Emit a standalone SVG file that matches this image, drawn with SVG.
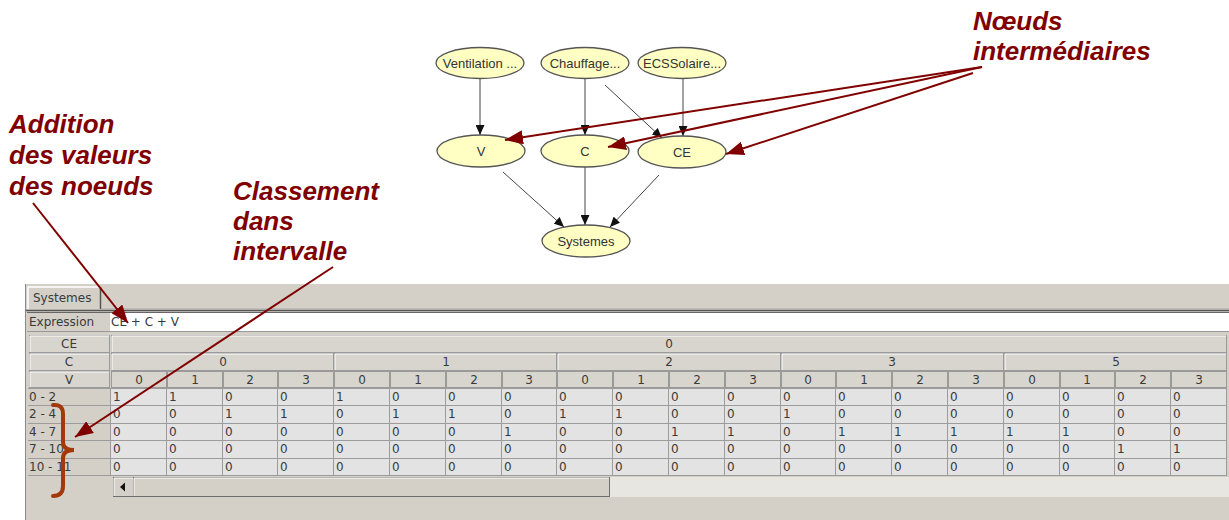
<svg xmlns="http://www.w3.org/2000/svg" width="1229" height="520" viewBox="0 0 1229 520">
<defs>
<marker id="ga" viewBox="0 0 10 9" refX="10" refY="4.5" markerWidth="10" markerHeight="9" markerUnits="userSpaceOnUse" orient="auto"><path d="M0,0 L10,4.5 L0,9 z" fill="#111"/></marker>
<marker id="ra" viewBox="0 0 18 14" refX="18" refY="7" markerWidth="18" markerHeight="14" markerUnits="userSpaceOnUse" orient="auto"><path d="M0,0 L18,7 L0,14 z" fill="#800000"/></marker>
<style>
.nd{fill:#FFFFC4;stroke:#555;stroke-width:1.3}
.nt{font-family:"Liberation Sans",Arial,sans-serif;font-size:13px;fill:#333;text-anchor:middle}
.ge{stroke:#444;stroke-width:1;fill:none;marker-end:url(#ga)}
.an{font-family:"Liberation Sans",Arial,sans-serif;font-size:26px;font-weight:bold;font-style:italic;fill:#800000}
.ra{stroke:#800000;stroke-width:2;fill:none;marker-end:url(#ra)}
.t{font-family:"DejaVu Sans",sans-serif;font-size:12px;fill:#3a3a3a}
.tc{font-family:"DejaVu Sans",sans-serif;font-size:12px;fill:#3a3a3a;text-anchor:middle}
.hb{fill:#D8D5CE;stroke:#9A9A9A;stroke-width:1}
.hl{stroke:#fff;stroke-width:1;fill:none}
.gl{stroke:#9C9C9C;stroke-width:1}
</style>
</defs>
<rect width="1229" height="520" fill="#fff"/>

<!-- panel -->
<g id="panel">
<rect x="25" y="284" width="1204" height="236" fill="#D4D0C8"/>
<line x1="25.5" y1="284" x2="25.5" y2="520" stroke="#8a8a8a"/>
<g id="tab">
<path d="M28,309 L28,287 L100,287" fill="none" stroke="#fff" stroke-width="1.5"/>
<line x1="100.5" y1="287" x2="100.5" y2="309" stroke="#555" stroke-width="1.5"/>
<text class="t" x="33" y="302" font-size="12.5">Systemes</text>
</g>
<line x1="26" y1="310.5" x2="1229" y2="310.5" stroke="#555" stroke-width="1.5"/>
<line x1="101" y1="309" x2="1229" y2="309" stroke="#aaa"/>
<!-- expression row -->
<rect x="110" y="312" width="1119" height="19" fill="#fff"/>
<line x1="27" y1="312.5" x2="1229" y2="312.5" stroke="#666"/>
<line x1="27" y1="331.5" x2="1229" y2="331.5" stroke="#999"/>
<text class="t" x="29" y="326">Expression</text>
<text class="t" x="111" y="326">CE + C + V</text>
</g>

<g id="table">
<!-- header label buttons -->
<rect class="hb" x="29.5" y="335.5" width="80" height="17"/>
<rect class="hb" x="29.5" y="353.5" width="80" height="17"/>
<rect class="hb" x="29.5" y="371.5" width="80" height="16"/>
<path class="hl" d="M30,352 L30,336 L109,336 M30,370 L30,354 L109,354 M30,387 L30,372 L109,372"/>
<text class="tc" x="69" y="348">CE</text>
<text class="tc" x="69" y="366">C</text>
<text class="tc" x="69" y="384">V</text>
<!-- CE span -->
<rect class="hb" x="111.5" y="335.5" width="1115" height="17"/>
<path class="hl" d="M112,352 L112,336 L1226,336"/>
<text class="tc" x="669" y="348">0</text>
<!-- C groups -->
<rect class="hb" x="111.5" y="353.5" width="222" height="17"/>
<rect class="hb" x="334.5" y="353.5" width="222" height="17"/>
<rect class="hb" x="557.5" y="353.5" width="223" height="17"/>
<rect class="hb" x="781.5" y="353.5" width="222" height="17"/>
<rect class="hb" x="1004.5" y="353.5" width="222" height="17"/>
<path class="hl" d="M112,370 L112,354 L333,354 M335,370 L335,354 L556,354 M558,370 L558,354 L780,354 M782,370 L782,354 L1003,354 M1005,370 L1005,354 L1226,354"/>
<text class="tc" x="223" y="366">0</text>
<text class="tc" x="446" y="366">1</text>
<text class="tc" x="669" y="366">2</text>
<text class="tc" x="892" y="366">3</text>
<text class="tc" x="1116" y="366">5</text>
<!-- V columns -->
<g>
<rect class="hb" x="111.5" y="371.5" width="55" height="16"/><rect class="hb" x="167.5" y="371.5" width="55" height="16"/><rect class="hb" x="223.5" y="371.5" width="54" height="16"/><rect class="hb" x="278.5" y="371.5" width="55" height="16"/>
<rect class="hb" x="334.5" y="371.5" width="55" height="16"/><rect class="hb" x="390.5" y="371.5" width="55" height="16"/><rect class="hb" x="446.5" y="371.5" width="55" height="16"/><rect class="hb" x="502.5" y="371.5" width="54" height="16"/>
<rect class="hb" x="557.5" y="371.5" width="55" height="16"/><rect class="hb" x="613.5" y="371.5" width="55" height="16"/><rect class="hb" x="669.5" y="371.5" width="55" height="16"/><rect class="hb" x="725.5" y="371.5" width="55" height="16"/>
<rect class="hb" x="781.5" y="371.5" width="54" height="16"/><rect class="hb" x="836.5" y="371.5" width="55" height="16"/><rect class="hb" x="892.5" y="371.5" width="55" height="16"/><rect class="hb" x="948.5" y="371.5" width="55" height="16"/>
<rect class="hb" x="1004.5" y="371.5" width="55" height="16"/><rect class="hb" x="1060.5" y="371.5" width="54" height="16"/><rect class="hb" x="1115.5" y="371.5" width="55" height="16"/><rect class="hb" x="1171.5" y="371.5" width="55" height="16"/>
</g>
<g>
<text class="tc" x="139" y="384">0</text><text class="tc" x="195" y="384">1</text><text class="tc" x="250" y="384">2</text><text class="tc" x="306" y="384">3</text>
<text class="tc" x="362" y="384">0</text><text class="tc" x="418" y="384">1</text><text class="tc" x="474" y="384">2</text><text class="tc" x="529" y="384">3</text>
<text class="tc" x="585" y="384">0</text><text class="tc" x="641" y="384">1</text><text class="tc" x="697" y="384">2</text><text class="tc" x="753" y="384">3</text>
<text class="tc" x="808" y="384">0</text><text class="tc" x="864" y="384">1</text><text class="tc" x="920" y="384">2</text><text class="tc" x="976" y="384">3</text>
<text class="tc" x="1032" y="384">0</text><text class="tc" x="1087" y="384">1</text><text class="tc" x="1143" y="384">2</text><text class="tc" x="1199" y="384">3</text>
</g>
<!-- data area -->
<rect x="111" y="388" width="1116" height="87" fill="#E3E3E3"/>
<rect x="28" y="388" width="83" height="87" fill="#D4D0C8"/>
<g class="gl">
<line x1="28" y1="388.5" x2="1227" y2="388.5"/>
<line x1="28" y1="405.5" x2="1227" y2="405.5"/>
<line x1="28" y1="423.5" x2="1227" y2="423.5"/>
<line x1="28" y1="440.5" x2="1227" y2="440.5"/>
<line x1="28" y1="458.5" x2="1227" y2="458.5"/>
<line x1="28" y1="475.5" x2="1227" y2="475.5"/>
<line x1="110.5" y1="388" x2="110.5" y2="476"/>
<line x1="166.5" y1="388" x2="166.5" y2="476"/><line x1="222.5" y1="388" x2="222.5" y2="476"/><line x1="277.5" y1="388" x2="277.5" y2="476"/><line x1="333.5" y1="388" x2="333.5" y2="476"/>
<line x1="389.5" y1="388" x2="389.5" y2="476"/><line x1="445.5" y1="388" x2="445.5" y2="476"/><line x1="501.5" y1="388" x2="501.5" y2="476"/><line x1="556.5" y1="388" x2="556.5" y2="476"/>
<line x1="612.5" y1="388" x2="612.5" y2="476"/><line x1="668.5" y1="388" x2="668.5" y2="476"/><line x1="724.5" y1="388" x2="724.5" y2="476"/><line x1="780.5" y1="388" x2="780.5" y2="476"/>
<line x1="835.5" y1="388" x2="835.5" y2="476"/><line x1="891.5" y1="388" x2="891.5" y2="476"/><line x1="947.5" y1="388" x2="947.5" y2="476"/><line x1="1003.5" y1="388" x2="1003.5" y2="476"/>
<line x1="1059.5" y1="388" x2="1059.5" y2="476"/><line x1="1114.5" y1="388" x2="1114.5" y2="476"/><line x1="1170.5" y1="388" x2="1170.5" y2="476"/><line x1="1226.5" y1="388" x2="1226.5" y2="476"/>
</g>
<!-- row labels -->
<text class="t" x="29" y="401">0 - 2</text>
<text class="t" x="29" y="418">2 - 4</text>
<text class="t" x="29" y="436">4 - 7</text>
<text class="t" x="29" y="453">7 - 10</text>
<text class="t" x="29" y="471">10 - 11</text>
<!-- row 0-2 -->
<g class="t">
<text x="113" y="401">1</text><text x="169" y="401">1</text><text x="225" y="401">0</text><text x="280" y="401">0</text>
<text x="336" y="401">1</text><text x="392" y="401">0</text><text x="448" y="401">0</text><text x="504" y="401">0</text>
<text x="559" y="401">0</text><text x="615" y="401">0</text><text x="671" y="401">0</text><text x="727" y="401">0</text>
<text x="783" y="401">0</text><text x="838" y="401">0</text><text x="894" y="401">0</text><text x="950" y="401">0</text>
<text x="1006" y="401">0</text><text x="1062" y="401">0</text><text x="1117" y="401">0</text><text x="1173" y="401">0</text>
</g>
<!-- row 2-4 -->
<g class="t">
<text x="113" y="418">0</text><text x="169" y="418">0</text><text x="225" y="418">1</text><text x="280" y="418">1</text>
<text x="336" y="418">0</text><text x="392" y="418">1</text><text x="448" y="418">1</text><text x="504" y="418">0</text>
<text x="559" y="418">1</text><text x="615" y="418">1</text><text x="671" y="418">0</text><text x="727" y="418">0</text>
<text x="783" y="418">1</text><text x="838" y="418">0</text><text x="894" y="418">0</text><text x="950" y="418">0</text>
<text x="1006" y="418">0</text><text x="1062" y="418">0</text><text x="1117" y="418">0</text><text x="1173" y="418">0</text>
</g>
<!-- row 4-7 -->
<g class="t">
<text x="113" y="436">0</text><text x="169" y="436">0</text><text x="225" y="436">0</text><text x="280" y="436">0</text>
<text x="336" y="436">0</text><text x="392" y="436">0</text><text x="448" y="436">0</text><text x="504" y="436">1</text>
<text x="559" y="436">0</text><text x="615" y="436">0</text><text x="671" y="436">1</text><text x="727" y="436">1</text>
<text x="783" y="436">0</text><text x="838" y="436">1</text><text x="894" y="436">1</text><text x="950" y="436">1</text>
<text x="1006" y="436">1</text><text x="1062" y="436">1</text><text x="1117" y="436">0</text><text x="1173" y="436">0</text>
</g>
<!-- row 7-10 -->
<g class="t">
<text x="113" y="453">0</text><text x="169" y="453">0</text><text x="225" y="453">0</text><text x="280" y="453">0</text>
<text x="336" y="453">0</text><text x="392" y="453">0</text><text x="448" y="453">0</text><text x="504" y="453">0</text>
<text x="559" y="453">0</text><text x="615" y="453">0</text><text x="671" y="453">0</text><text x="727" y="453">0</text>
<text x="783" y="453">0</text><text x="838" y="453">0</text><text x="894" y="453">0</text><text x="950" y="453">0</text>
<text x="1006" y="453">0</text><text x="1062" y="453">0</text><text x="1117" y="453">1</text><text x="1173" y="453">1</text>
</g>
<!-- row 10-11 -->
<g class="t">
<text x="113" y="471">0</text><text x="169" y="471">0</text><text x="225" y="471">0</text><text x="280" y="471">0</text>
<text x="336" y="471">0</text><text x="392" y="471">0</text><text x="448" y="471">0</text><text x="504" y="471">0</text>
<text x="559" y="471">0</text><text x="615" y="471">0</text><text x="671" y="471">0</text><text x="727" y="471">0</text>
<text x="783" y="471">0</text><text x="838" y="471">0</text><text x="894" y="471">0</text><text x="950" y="471">0</text>
<text x="1006" y="471">0</text><text x="1062" y="471">0</text><text x="1117" y="471">0</text><text x="1173" y="471">0</text>
</g>
</g>

<!-- scrollbar -->
<g id="scrollbar">
<rect x="610" y="477" width="619" height="20" fill="#E8E6E1"/>
<rect x="113.5" y="477.5" width="20" height="19" fill="#D4D0C8" stroke="#6e6e6e"/>
<path d="M114,496 L114,478 L133,478" fill="none" stroke="#fff"/>
<path d="M120,487 L125,482.5 L125,491.5 z" fill="#111"/>
<rect x="133.5" y="477.5" width="476" height="19" fill="#D4D0C8" stroke="#6e6e6e"/>
<path d="M134,496 L134,478 L609,478" fill="none" stroke="#fff"/>
</g>

<!-- graph -->
<g id="connectors">
<line class="ge" x1="480" y1="79" x2="480" y2="135"/>
<line class="ge" x1="585" y1="79" x2="585" y2="135"/>
<line class="ge" x1="605" y1="85" x2="662" y2="138"/>
<line class="ge" x1="683" y1="79" x2="683" y2="136"/>
<line class="ge" x1="503" y1="172" x2="564" y2="227"/>
<line class="ge" x1="585" y1="167" x2="585" y2="225"/>
<line class="ge" x1="659" y1="175" x2="610" y2="227"/>
</g>
<g id="node-ventilation"><ellipse class="nd" cx="480" cy="63" rx="44" ry="15.5"/><text class="nt" x="480" y="67.5">Ventilation ...</text></g>
<g id="node-chauffage"><ellipse class="nd" cx="585" cy="63" rx="44" ry="15.5"/><text class="nt" x="585" y="67.5">Chauffage...</text></g>
<g id="node-ecssolaire"><ellipse class="nd" cx="682" cy="63" rx="44" ry="15.5"/><text class="nt" x="682" y="67.5">ECSSolaire...</text></g>
<g id="node-v"><ellipse class="nd" cx="481" cy="151" rx="44" ry="16"/><text class="nt" x="481" y="156">V</text></g>
<g id="node-c"><ellipse class="nd" cx="585" cy="151" rx="44" ry="16"/><text class="nt" x="585" y="156">C</text></g>
<g id="node-ce"><ellipse class="nd" cx="682" cy="152" rx="44" ry="16"/><text class="nt" x="682" y="157">CE</text></g>
<g id="node-systemes"><ellipse class="nd" cx="586" cy="241" rx="44" ry="16"/><text class="nt" x="586" y="245.5">Systemes</text></g>

<!-- annotations -->
<g id="annot-noeuds">
<text class="an" x="973" y="30">Nœuds</text>
<text class="an" x="973" y="60">intermédiaires</text>
</g>
<g id="annot-addition">
<text class="an" x="9" y="133">Addition</text>
<text class="an" x="9" y="164">des valeurs</text>
<text class="an" x="9" y="195">des noeuds</text>
</g>
<g id="annot-classement">
<text class="an" x="233" y="200">Classement</text>
<text class="an" x="233" y="230">dans</text>
<text class="an" x="233" y="260">intervalle</text>
</g>
<g id="annot-arrows">
<line class="ra" x1="982" y1="67" x2="505" y2="140"/>
<line class="ra" x1="982" y1="67" x2="608" y2="147"/>
<line class="ra" x1="973" y1="73" x2="726" y2="154"/>
<line class="ra" x1="33" y1="203" x2="128" y2="323"/>
<line class="ra" x1="333" y1="267" x2="75" y2="437"/>
</g>
<path id="brace" d="M53,405 Q63,404 63,414 L63,442 Q63,450 74,450 Q63,450 63,458 L63,486 Q63,496 53,496" fill="none" stroke="#A3380B" stroke-width="4" stroke-linecap="round"/>
</svg>
